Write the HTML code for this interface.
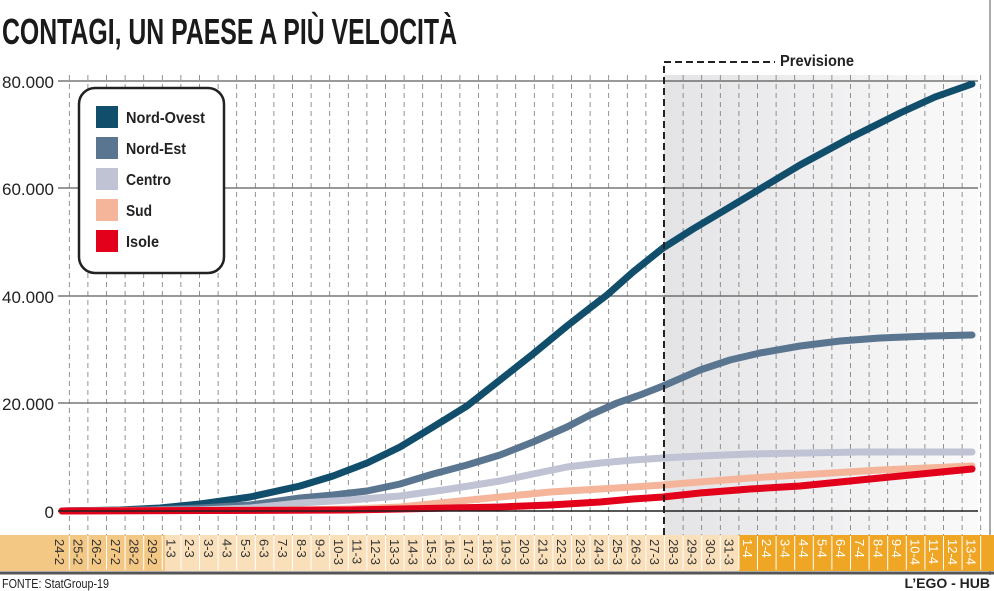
<!DOCTYPE html>
<html><head><meta charset="utf-8"><style>
html,body{margin:0;padding:0;background:#fff}
svg{display:block;font-family:"Liberation Sans Narrow","Liberation Sans",sans-serif}
</style></head><body>
<svg width="994" height="591" viewBox="0 0 994 591" xmlns="http://www.w3.org/2000/svg">
<defs>
<linearGradient id="fg" x1="0" x2="1" y1="0" y2="0">
<stop offset="0" stop-color="#e4e4e6"/><stop offset="1" stop-color="#fafafb"/>
</linearGradient>
</defs>
<rect width="994" height="591" fill="#fff"/>
<line x1="990" y1="0" x2="990" y2="575" stroke="#555" stroke-width="1"/>
<text x="2" y="44" font-size="36" font-weight="bold" fill="#1a1a1a" textLength="455" lengthAdjust="spacingAndGlyphs">CONTAGI, UN PAESE A PIÙ VELOCITÀ</text>
<rect x="664" y="75" width="314" height="460" fill="url(#fg)"/>
<g stroke="#333" stroke-width="1">
<line x1="58" y1="81" x2="978" y2="81"/>
<line x1="58" y1="188" x2="978" y2="188"/>
<line x1="58" y1="296" x2="978" y2="296"/>
<line x1="58" y1="403" x2="978" y2="403"/>
</g>
<path stroke="#777" stroke-width="0.8" stroke-dasharray="5,4" fill="none" d="M69.3,75V535M87.9,75V535M106.5,75V535M125.1,75V535M143.7,75V535M162.3,75V535M180.9,75V535M199.5,75V535M218.1,75V535M236.7,75V535M255.3,75V535M273.9,75V535M292.5,75V535M311.1,75V535M329.7,75V535M348.3,75V535M366.9,75V535M385.5,75V535M404.1,75V535M422.7,75V535M441.3,75V535M459.9,75V535M478.5,75V535M497.1,75V535M515.7,75V535M534.3,75V535M552.9,75V535M571.5,75V535M590.1,75V535M608.7,75V535M627.3,75V535M645.9,75V535M683.1,75V535M701.7,75V535M720.3,75V535M738.9,75V535M757.5,75V535M776.1,75V535M794.7,75V535M813.3,75V535M831.9,75V535M850.5,75V535M869.1,75V535M887.7,75V535M906.3,75V535M924.9,75V535M943.5,75V535M962.1,75V535M980.7,75V535"/>
<g font-size="17" fill="#222" text-anchor="end">
<text x="54" y="88">80.000</text>
<text x="54" y="195">60.000</text>
<text x="54" y="303">40.000</text>
<text x="54" y="410">20.000</text>
<text x="54" y="518">0</text>
</g>
<rect x="0" y="535" width="994" height="36" fill="#f9e0bb"/>
<rect x="0" y="535" width="165" height="36" fill="#f3c784"/>
<rect x="739" y="535" width="255" height="36" fill="#efa624"/>
<line x1="0" y1="573" x2="994" y2="573" stroke="#555" stroke-width="3"/>
<path stroke="#fff" stroke-width="1" fill="none" d="M69.3,536V570M87.9,536V570M106.5,536V570M125.1,536V570M143.7,536V570M162.3,536V570M180.9,536V570M199.5,536V570M218.1,536V570M236.7,536V570M255.3,536V570M273.9,536V570M292.5,536V570M311.1,536V570M329.7,536V570M348.3,536V570M366.9,536V570M385.5,536V570M404.1,536V570M422.7,536V570M441.3,536V570M459.9,536V570M478.5,536V570M497.1,536V570M515.7,536V570M534.3,536V570M552.9,536V570M571.5,536V570M590.1,536V570M608.7,536V570M627.3,536V570M645.9,536V570M664.5,536V570M683.1,536V570M701.7,536V570M720.3,536V570M738.9,536V570M757.5,536V570M776.1,536V570M794.7,536V570M813.3,536V570M831.9,536V570M850.5,536V570M869.1,536V570M887.7,536V570M906.3,536V570M924.9,536V570M943.5,536V570M962.1,536V570M980.7,536V570"/>
<g font-size="13" fill="#333">
<text transform="translate(55,539) rotate(90)">24-2</text>
<text transform="translate(73.6,539) rotate(90)">25-2</text>
<text transform="translate(92.2,539) rotate(90)">26-2</text>
<text transform="translate(110.8,539) rotate(90)">27-2</text>
<text transform="translate(129.4,539) rotate(90)">28-2</text>
<text transform="translate(148,539) rotate(90)">29-2</text>
<text transform="translate(166.6,539) rotate(90)">1-3</text>
<text transform="translate(185.2,539) rotate(90)">2-3</text>
<text transform="translate(203.8,539) rotate(90)">3-3</text>
<text transform="translate(222.4,539) rotate(90)">4-3</text>
<text transform="translate(241,539) rotate(90)">5-3</text>
<text transform="translate(259.6,539) rotate(90)">6-3</text>
<text transform="translate(278.2,539) rotate(90)">7-3</text>
<text transform="translate(296.8,539) rotate(90)">8-3</text>
<text transform="translate(315.4,539) rotate(90)">9-3</text>
<text transform="translate(334,539) rotate(90)">10-3</text>
<text transform="translate(352.6,539) rotate(90)">11-3</text>
<text transform="translate(371.2,539) rotate(90)">12-3</text>
<text transform="translate(389.8,539) rotate(90)">13-3</text>
<text transform="translate(408.4,539) rotate(90)">14-3</text>
<text transform="translate(427,539) rotate(90)">15-3</text>
<text transform="translate(445.6,539) rotate(90)">16-3</text>
<text transform="translate(464.2,539) rotate(90)">17-3</text>
<text transform="translate(482.8,539) rotate(90)">18-3</text>
<text transform="translate(501.4,539) rotate(90)">19-3</text>
<text transform="translate(520,539) rotate(90)">20-3</text>
<text transform="translate(538.6,539) rotate(90)">21-3</text>
<text transform="translate(557.2,539) rotate(90)">22-3</text>
<text transform="translate(575.8,539) rotate(90)">23-3</text>
<text transform="translate(594.4,539) rotate(90)">24-3</text>
<text transform="translate(613,539) rotate(90)">25-3</text>
<text transform="translate(631.6,539) rotate(90)">26-3</text>
<text transform="translate(650.2,539) rotate(90)">27-3</text>
<text transform="translate(668.8,539) rotate(90)">28-3</text>
<text transform="translate(687.4,539) rotate(90)">29-3</text>
<text transform="translate(706,539) rotate(90)">30-3</text>
<text transform="translate(724.6,539) rotate(90)">31-3</text>
</g>
<g font-size="13" fill="#fff">
<text transform="translate(743.2,539) rotate(90)">1-4</text>
<text transform="translate(761.8,539) rotate(90)">2-4</text>
<text transform="translate(780.4,539) rotate(90)">3-4</text>
<text transform="translate(799,539) rotate(90)">4-4</text>
<text transform="translate(817.6,539) rotate(90)">5-4</text>
<text transform="translate(836.2,539) rotate(90)">6-4</text>
<text transform="translate(854.8,539) rotate(90)">7-4</text>
<text transform="translate(873.4,539) rotate(90)">8-4</text>
<text transform="translate(892,539) rotate(90)">9-4</text>
<text transform="translate(910.6,539) rotate(90)">10-4</text>
<text transform="translate(929.2,539) rotate(90)">11-4</text>
<text transform="translate(947.8,539) rotate(90)">12-4</text>
<text transform="translate(966.4,539) rotate(90)">13-4</text>
</g>
<g fill="none" stroke-linecap="round" stroke-linejoin="round" stroke-width="7">
<polyline stroke="#114e6c" points="62,511 120,510 160,508 200,504 250,497 300,486 333,476 367,463 400,447 433,427 467,406 500,380 533,354 567,326 590,308 607,295 633,272 663,248 693,229 730,207 760,189 800,165 850,138 900,113 935,97 972,84"/>
<polyline stroke="#5a7590" points="62,511 150,510 200,508 250,505 300,498 333,495 367,491 400,484 433,474 467,465 500,455 533,442 567,427 590,415 617,403 640,395 663,386 700,370 730,360 760,353 800,346 840,341 880,338 930,336 972,335"/>
<polyline stroke="#bfc3d3" points="62,511 200,510 250,508 300,503 350,500 400,496 450,489 500,481 533,474 567,467 600,463 633,460 663,458 700,456 750,454 860,452 972,452"/>
<polyline stroke="#f5b59b" points="62,511 300,510 350,509 400,507 450,502 500,497 550,492 600,489 633,487 663,485 700,482 750,478 800,475 880,470 972,466"/>
<polyline stroke="#e3001b" points="62,511 350,510 400,509 450,508 500,507 550,505 600,502 633,499 663,497 700,493 750,489 800,486 880,478 972,469"/>
</g>
<line x1="58" y1="511" x2="978" y2="511" stroke="#222" stroke-width="1.5"/>
<path d="M664,535 V62 H775" fill="none" stroke="#222" stroke-width="2" stroke-dasharray="7,4"/>
<text x="780" y="66" font-size="16" font-weight="bold" fill="#222" textLength="74" lengthAdjust="spacingAndGlyphs">Previsione</text>
<rect x="79" y="88" width="145" height="185" rx="16" fill="#fff" stroke="#222" stroke-width="2.5"/>
<g font-size="16" font-weight="bold" fill="#222">
<rect x="96" y="106" width="22" height="22" fill="#114e6c"/><text x="126" y="123" textLength="79" lengthAdjust="spacingAndGlyphs">Nord-Ovest</text>
<rect x="96" y="137" width="22" height="22" fill="#5a7590"/><text x="126" y="154" textLength="60" lengthAdjust="spacingAndGlyphs">Nord-Est</text>
<rect x="96" y="168" width="22" height="22" fill="#bfc3d3"/><text x="126" y="185" textLength="45" lengthAdjust="spacingAndGlyphs">Centro</text>
<rect x="96" y="199" width="22" height="22" fill="#f5b59b"/><text x="126" y="216" textLength="26" lengthAdjust="spacingAndGlyphs">Sud</text>
<rect x="96" y="230" width="22" height="22" fill="#e3001b"/><text x="126" y="247" textLength="33" lengthAdjust="spacingAndGlyphs">Isole</text>
</g>
<text x="2" y="588" font-size="13" fill="#222" textLength="107" lengthAdjust="spacingAndGlyphs">FONTE: StatGroup-19</text>
<text x="990" y="588" font-size="14" font-weight="bold" fill="#222" text-anchor="end">L’EGO - HUB</text>
</svg>
</body></html>
